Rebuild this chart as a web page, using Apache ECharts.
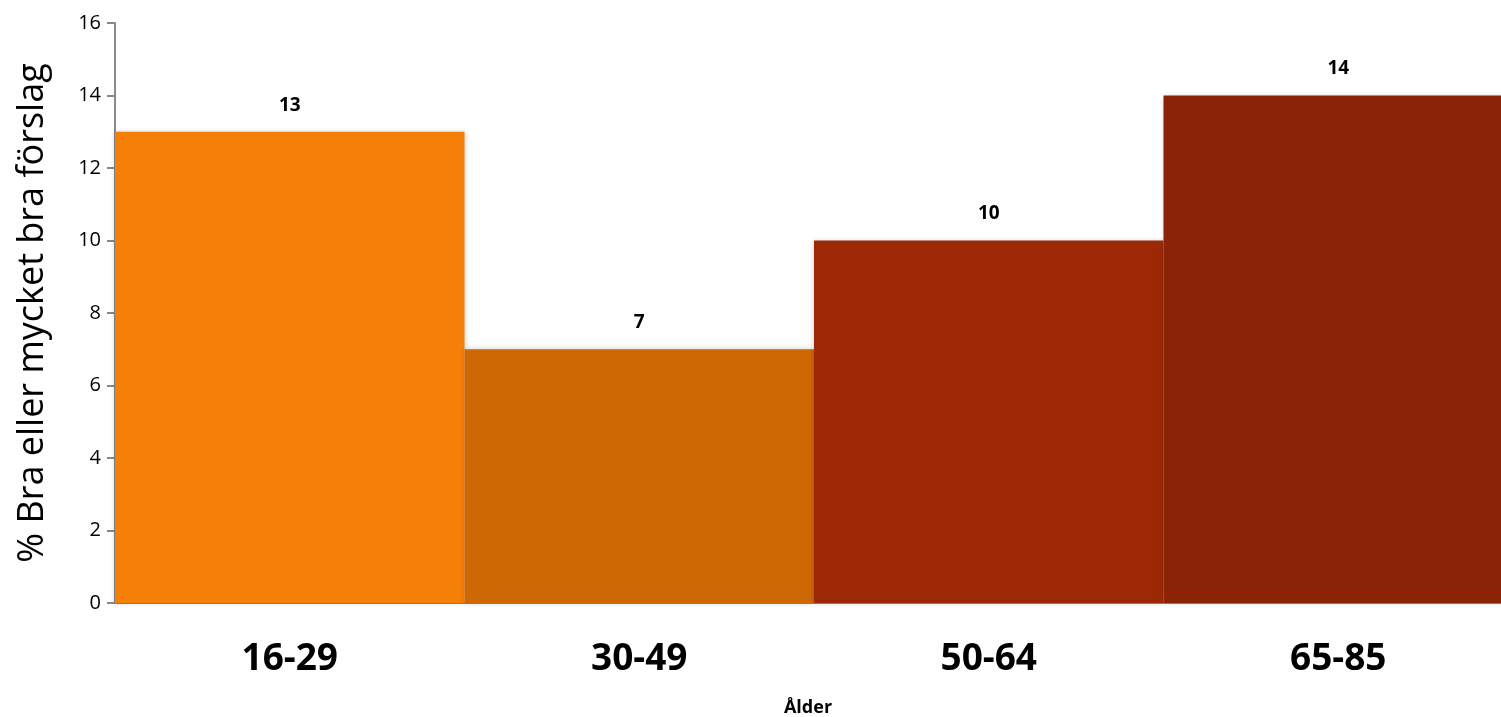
<!DOCTYPE html>
<html>
<head>
<meta charset="utf-8">
<script src="https://cdn.jsdelivr.net/npm/echarts@6/dist/echarts.min.js"></script>
<style>
html,body{margin:0;padding:0;background:#fff;overflow:hidden;}
#chart{width:1501px;height:717px;}
</style>
</head>
<body>
<div id="chart"></div>
<script>
const categories = ['16-29', '30-49', '50-64', '65-85'];
const values = [13, 7, 10, 14];
const barColors = ['#F57F07', '#CD6805', '#9C2806', '#8B2306'];
const yTicks = [0, 2, 4, 6, 8, 10, 12, 14, 16];

const font = '"Open Sans", "Liberation Sans", sans-serif';
const chart = echarts.init(document.getElementById('chart'), null, {renderer: 'canvas'});
chart.setOption({
  animation: false,
  backgroundColor: '#fff',
  grid: {left: 115, right: -12, top: 23, bottom: 114, containLabel: false, outerBoundsMode: 'none'},
  xAxis: {
    type: 'category',
    data: categories,
    name: 'Ålder',
    nameLocation: 'middle',
    nameGap: 96,
    nameTextStyle: {fontFamily: font, fontWeight: 'bold', fontSize: 18, color: '#000', padding: [0, 12, 0, 0]},
    axisLine: {lineStyle: {color: '#898989', width: 2}},
    axisTick: {show: false},
    axisLabel: {fontFamily: font, fontWeight: 'bold', fontSize: 37, color: '#000', margin: 38}
  },
  yAxis: {
    type: 'value',
    min: yTicks[0],
    max: yTicks[yTicks.length - 1],
    interval: 2,
    name: '% Bra eller mycket bra förslag',
    nameLocation: 'middle',
    nameGap: 64,
    nameTextStyle: {fontFamily: font, fontSize: 36, color: '#000'},
    axisLine: {show: true, lineStyle: {color: '#898989', width: 2}},
    axisTick: {show: true, length: 8, lineStyle: {color: '#898989', width: 2}},
    axisLabel: {fontFamily: font, fontSize: 20, color: '#000', margin: 14},
    splitLine: {show: false}
  },
  series: [{
    type: 'bar',
    barCategoryGap: '0%',
    data: values.map((v, i) => ({value: v, itemStyle: {color: barColors[i]}})),
    itemStyle: {shadowColor: 'rgba(0,0,0,0.22)', shadowBlur: 5},
    label: {
      show: true,
      position: 'top',
      distance: 17,
      fontFamily: font,
      fontWeight: 'bold',
      fontSize: 19,
      color: '#000'
    }
  }]
});
</script>
</body>
</html>
